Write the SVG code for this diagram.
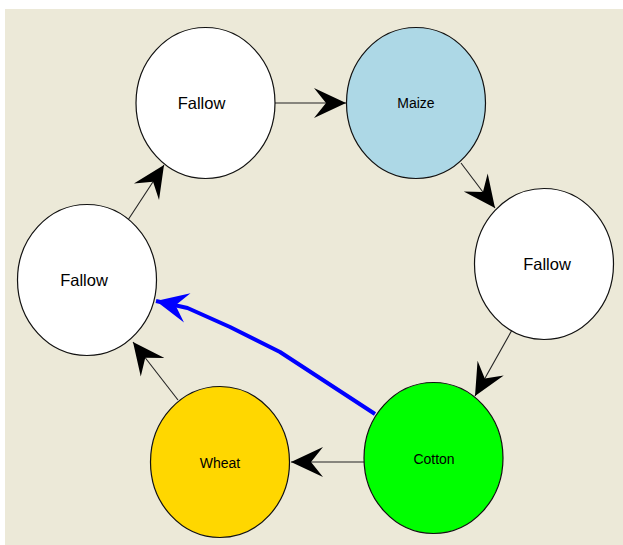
<svg xmlns="http://www.w3.org/2000/svg" width="623" height="545" viewBox="0 0 623 545">
<style>
.node{stroke:#111;stroke-width:1.2}
.big{font-family:"Liberation Sans",Arial,sans-serif;font-size:16.5px;fill:#000;text-anchor:middle}
.small{font-family:"Liberation Sans",Arial,sans-serif;font-size:14px;fill:#000;text-anchor:middle}
.edge{stroke:#222;stroke-width:1.1;fill:none}
.blue{stroke:#0000ff;stroke-width:4;fill:none;stroke-linejoin:round}
</style>
<defs>
<marker id="ah" markerUnits="userSpaceOnUse" viewBox="-33 -16 34 32" refX="0" refY="0" markerWidth="34" markerHeight="32" orient="auto">
<path d="M0,0 L-32,-15 L-20,0 L-32,15 Z" fill="#000"/>
</marker>
<marker id="ahb" markerUnits="userSpaceOnUse" viewBox="-33 -16 34 32" refX="0" refY="0" markerWidth="34" markerHeight="32" orient="auto">
<path d="M0,0 L-32,-15 L-20,0 L-32,15 Z" fill="#0000ff"/>
</marker>
</defs>
<rect x="0" y="0" width="623" height="545" fill="#ffffff"/>
<rect x="5" y="9" width="618" height="536" fill="#ECE9D8"/>
<g id="connectors">
<line class="edge" x1="275" y1="103" x2="346" y2="103" marker-end="url(#ah)"/>
<line class="edge" x1="461" y1="163" x2="495" y2="208" marker-end="url(#ah)"/>
<line class="edge" x1="512" y1="330" x2="475" y2="396" marker-end="url(#ah)"/>
<line class="edge" x1="364" y1="462" x2="291" y2="462" marker-end="url(#ah)"/>
<line class="edge" x1="178" y1="400" x2="133" y2="342" marker-end="url(#ah)"/>
<line class="edge" x1="128" y1="220" x2="164" y2="165" marker-end="url(#ah)"/>
<path class="blue" d="M375,414 L280,352 L230,327 L187.5,308 L156,301" marker-end="url(#ahb)"/>
</g>
<g id="fallow-top">
<ellipse class="node" cx="205.5" cy="103" rx="69.5" ry="75.5" fill="#ffffff"/>
<text class="big" x="201.5" y="109">Fallow</text>
</g>
<g id="maize">
<ellipse class="node" cx="416" cy="103" rx="69.5" ry="75.5" fill="#ADD8E6"/>
<text class="small" x="416" y="108">Maize</text>
</g>
<g id="fallow-right">
<ellipse class="node" cx="544" cy="264" rx="69.5" ry="75.5" fill="#ffffff"/>
<text class="big" x="547" y="270">Fallow</text>
</g>
<g id="cotton">
<ellipse class="node" cx="433.5" cy="458" rx="69.5" ry="75.5" fill="#00ff00"/>
<text class="small" x="434" y="464">Cotton</text>
</g>
<g id="wheat">
<ellipse class="node" cx="220" cy="462" rx="69.5" ry="75.5" fill="#FFD700"/>
<text class="small" x="220" y="468">Wheat</text>
</g>
<g id="fallow-left">
<ellipse class="node" cx="87" cy="280" rx="69.5" ry="75.5" fill="#ffffff"/>
<text class="big" x="84" y="286">Fallow</text>
</g>
</svg>
